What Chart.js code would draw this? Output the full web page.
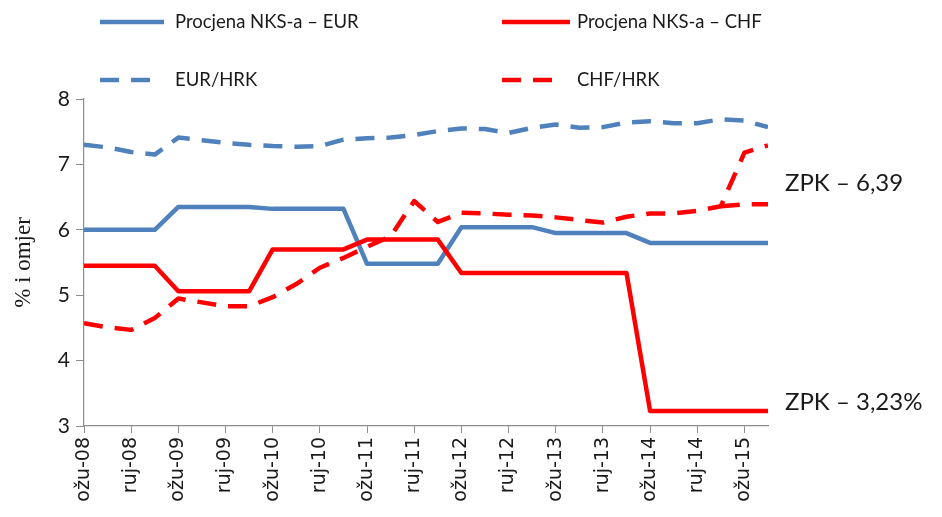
<!DOCTYPE html>
<html lang="hr">
<head>
    <meta charset="UTF-8">
    <title>Procjena NKS-a</title>
    <script src="https://cdn.jsdelivr.net/npm/chart.js"></script>
    <style>
        html, body { margin: 0; padding: 0; background: #fff; }
    </style>
</head>
<body>
    <canvas id="nksChart" width="942" height="517"></canvas>

    <script>
        // quarterly observations, ožu-08 .. lip-15
        const quarters = [
            "ožu-08", "lip-08", "ruj-08", "pro-08",
            "ožu-09", "lip-09", "ruj-09", "pro-09",
            "ožu-10", "lip-10", "ruj-10", "pro-10",
            "ožu-11", "lip-11", "ruj-11", "pro-11",
            "ožu-12", "lip-12", "ruj-12", "pro-12",
            "ožu-13", "lip-13", "ruj-13", "pro-13",
            "ožu-14", "lip-14", "ruj-14", "pro-14",
            "ožu-15", "lip-15"
        ];

        const nksEur = [6.00, 6.00, 6.00, 6.00, 6.35, 6.35, 6.35, 6.35, 6.32, 6.32, 6.32, 6.32,
            5.48, 5.48, 5.48, 5.48, 6.04, 6.04, 6.04, 6.04, 5.95, 5.95, 5.95, 5.95,
            5.80, 5.80, 5.80, 5.80, 5.80, 5.80];
        const nksChf = [5.45, 5.45, 5.45, 5.45, 5.06, 5.06, 5.06, 5.06, 5.70, 5.70, 5.70, 5.70,
            5.85, 5.85, 5.85, 5.85, 5.34, 5.34, 5.34, 5.34, 5.34, 5.34, 5.34, 5.34,
            3.23, 3.23, 3.23, 3.23, 3.23, 3.23];
        const eurHrk = [7.30, 7.26, 7.19, 7.15, 7.41, 7.37, 7.33, 7.30, 7.28, 7.27, 7.28, 7.38,
            7.40, 7.41, 7.45, 7.51, 7.55, 7.54, 7.48, 7.56, 7.61, 7.56, 7.57, 7.64,
            7.66, 7.63, 7.63, 7.69, 7.67, 7.57];
        const chfHrk = [4.57, 4.51, 4.47, 4.65, 4.95, 4.89, 4.83, 4.83, 4.97, 5.17, 5.42, 5.57,
            5.74, 5.90, 6.44, 6.12, 6.26, 6.25, 6.23, 6.22, 6.19, 6.15, 6.11, 6.20,
            6.25, 6.25, 6.29, 6.36, 7.18, 7.29];
        // ZPK conversion rate branch (6,39) after the CHF jump
        const zpkChf = [null, null, null, null, null, null, null, null, null, null, null, null,
            null, null, null, null, null, null, null, null, null, null, null, null,
            null, null, null, 6.36, 6.39, 6.39];

        const yTicks = [3, 4, 5, 6, 7, 8];

        const BLUE = "#4f81bd";
        const RED = "#ff0000";
        const AXIS = "#8c8c8c";
        const TEXT_FONT = "Lato, 'Open Sans', sans-serif";

        function toPoints(values) {
            return values.map((v, i) => ({ x: i, y: v }));
        }

        // legend in two rows + the ZPK notes on the right
        const legendItems = [
            { text: "Procjena NKS-a \u2013 EUR", color: BLUE, dash: [], x: 100, y: 22, len: 64 },
            { text: "Procjena NKS-a \u2013 CHF", color: RED, dash: [], x: 502, y: 22, len: 68 },
            { text: "EUR/HRK", color: BLUE, dash: [19, 12], x: 100, y: 80, len: 50 },
            { text: "CHF/HRK", color: RED, dash: [19, 12], x: 502, y: 80, len: 50 }
        ];

        const overlayText = {
            id: "overlayText",
            afterDraw(chart) {
                const ctx = chart.ctx;
                ctx.save();
                ctx.textBaseline = "middle";
                ctx.fillStyle = "#1a1a1a";
                ctx.font = "18.5px " + TEXT_FONT;
                legendItems.forEach(item => {
                    ctx.beginPath();
                    ctx.strokeStyle = item.color;
                    ctx.lineWidth = 4.5;
                    ctx.setLineDash(item.dash);
                    ctx.moveTo(item.x, item.y);
                    ctx.lineTo(item.x + item.len, item.y);
                    ctx.stroke();
                    ctx.fillText(item.text, item.x + 75, item.y);
                });
                ctx.setLineDash([]);
                ctx.font = "24px " + TEXT_FONT;
                ctx.fillText("ZPK \u2013 6,39", 785, 183);
                ctx.fillText("ZPK \u2013 3,23%", 785, 402);
                ctx.restore();
            }
        };

        const lineStyle = {
            borderWidth: 4.5,
            pointRadius: 0,
            tension: 0,
            fill: false,
            borderJoinStyle: "round"
        };

        new Chart(document.getElementById("nksChart"), {
            type: "line",
            data: {
                datasets: [
                    { ...lineStyle, label: "Procjena NKS-a – EUR", data: toPoints(nksEur), borderColor: BLUE, order: 4 },
                    { ...lineStyle, label: "Procjena NKS-a – CHF", data: toPoints(nksChf), borderColor: RED, order: 3 },
                    { ...lineStyle, label: "EUR/HRK", data: toPoints(eurHrk), borderColor: BLUE, borderDash: [19, 12], order: 2 },
                    { ...lineStyle, label: "CHF/HRK", data: toPoints(chfHrk), borderColor: RED, borderDash: [19, 12], order: 1 },
                    { ...lineStyle, label: "ZPK", data: toPoints(zpkChf), borderColor: RED, borderDash: [19, 12], order: 1, spanGaps: false }
                ]
            },
            options: {
                responsive: false,
                animation: false,
                layout: { padding: { top: 99, right: 174, left: 0, bottom: 0 } },
                plugins: {
                    legend: { display: false },
                    tooltip: { enabled: false }
                },
                scales: {
                    x: {
                        type: "linear",
                        min: 0,
                        max: quarters.length - 1,
                        afterFit: s => { s.height = 91; },
                        border: { color: AXIS, width: 1.2 },
                        grid: { drawOnChartArea: false, color: AXIS, tickLength: 7 },
                        ticks: {
                            stepSize: 2,
                            includeBounds: false,
                            autoSkip: false,
                            minRotation: 90,
                            maxRotation: 90,
                            padding: 4,
                            color: "#1a1a1a",
                            font: { family: "'DejaVu Sans', sans-serif", size: 19 },
                            callback: v => quarters[v]
                        }
                    },
                    y: {
                        min: 3,
                        max: 8,
                        afterFit: s => { s.width = 84; },
                        afterBuildTicks: s => { s.ticks = yTicks.map(v => ({ value: v })); },
                        border: { color: AXIS, width: 1.2 },
                        grid: { drawOnChartArea: false, color: AXIS, tickLength: 8 },
                        ticks: {
                            padding: 6,
                            color: "#1a1a1a",
                            font: { family: TEXT_FONT, size: 21 }
                        },
                        title: {
                            display: true,
                            text: "% i omjer",
                            color: "#1a1a1a",
                            padding: { top: 10, bottom: 0 },
                            font: { family: "'Liberation Serif', serif", size: 23 }
                        }
                    }
                }
            },
            plugins: [overlayText]
        });
    </script>
</body>
</html>
